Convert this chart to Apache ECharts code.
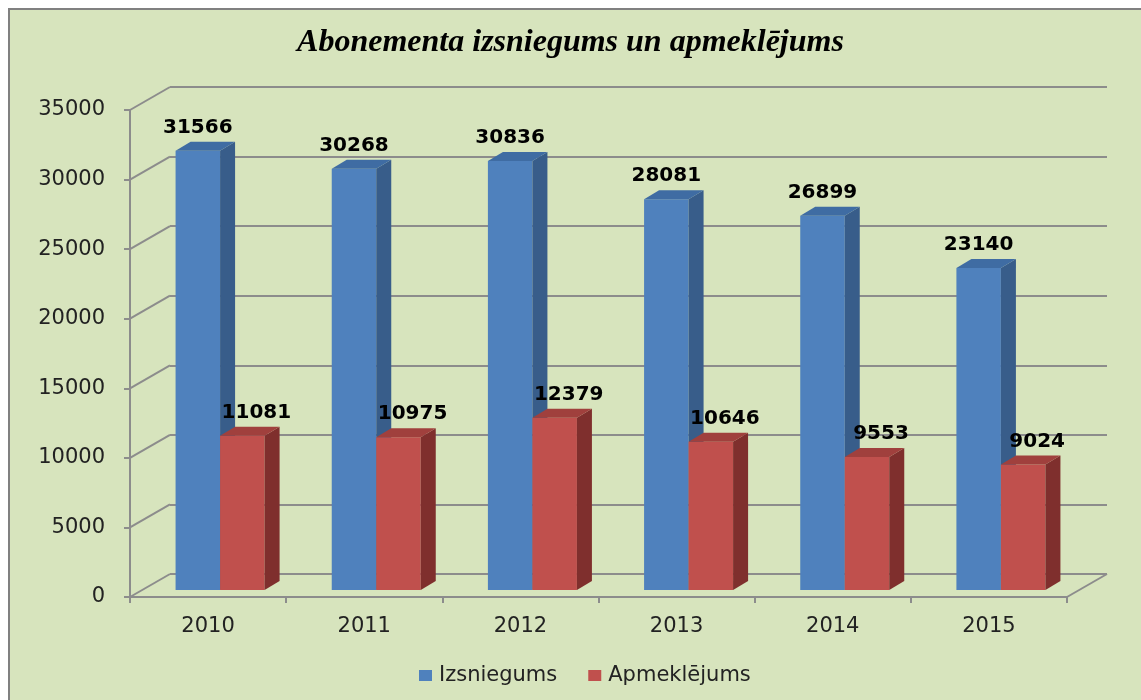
<!DOCTYPE html>
<html>
<head>
<meta charset="utf-8">
<script src="https://cdn.jsdelivr.net/npm/echarts@6/dist/echarts.min.js"></script>
<style>
html, body { margin: 0; padding: 0; background: #fff; }
#main { width: 1141px; height: 700px; }
</style>
</head>
<body>
<div id="main"></div>
<script>
// data
var years = ['2010', '2011', '2012', '2013', '2014', '2015'];
var izsniegums = [31566, 30268, 30836, 28081, 26899, 23140];
var apmeklejums = [11081, 10975, 12379, 10646, 9553, 9024];
var yTicks = [0, 5000, 10000, 15000, 20000, 25000, 30000, 35000];

// fake 3d geometry
var DEPTH_X = 40, DEPTH_Y = -23;   // back wall offset from the front axis
var PLANE_X = 12, PLANE_Y = -7;    // bars stand a bit behind the front
var SIDE_X = 15, SIDE_Y = -9;      // bar depth
var gridColor = '#8C8C8C';
var axisFont = 'DejaVu Sans';

function bar3d(slot, front, side, top, labelShift) {
  return function (params, api) {
    var i = api.value(0), v = api.value(1);
    var w = api.size([1, 0])[0] * 0.285;
    var p0 = api.coord([i, 0]);
    var p1 = api.coord([i, v]);
    var x0 = p0[0] + PLANE_X + slot * w;
    var yb = p0[1] + PLANE_Y, yt = p1[1] + PLANE_Y;
    var x1 = x0 + w;
    return {
      type: 'group',
      children: [
        { type: 'rect', shape: { x: x0, y: yt, width: w, height: yb - yt }, style: { fill: front } },
        { type: 'polygon', shape: { points: [[x1, yb], [x1, yt], [x1 + SIDE_X, yt + SIDE_Y], [x1 + SIDE_X, yb + SIDE_Y]] }, style: { fill: side } },
        { type: 'polygon', shape: { points: [[x0, yt], [x1, yt], [x1 + SIDE_X, yt + SIDE_Y], [x0 + SIDE_X, yt + SIDE_Y]] }, style: { fill: top } },
        { type: 'text', z2: 10, style: {
            text: String(v), x: x0 + w / 2 + labelShift, y: yt - 13,
            align: 'center', verticalAlign: 'bottom',
            font: 'bold 20px "DejaVu Sans"', fill: '#000' } }
      ]
    };
  };
}

function walls(params, api) {
  var cs = params.coordSys;
  var y = api.coord([0, api.value(1)])[1];
  var lines = [
    { type: 'line', shape: { x1: cs.x, y1: y, x2: cs.x + DEPTH_X, y2: y + DEPTH_Y }, style: { stroke: gridColor, lineWidth: 2 } }
  ];
  if (api.value(1) === 0) {
    lines.push({ type: 'line', shape: { x1: cs.x + cs.width, y1: y, x2: cs.x + cs.width + DEPTH_X, y2: y + DEPTH_Y }, style: { stroke: gridColor, lineWidth: 2 } });
  }
  return { type: 'group', children: lines };
}

var chart = echarts.init(document.getElementById('main'));
chart.setOption({
  backgroundColor: '#fff',
  animation: false,
  graphic: {
    elements: [{
      type: 'rect', z: -100, silent: true,
      shape: { x: 9, y: 9, width: 1200, height: 800 },
      style: { fill: '#D7E4BD', stroke: '#808080', lineWidth: 2 }
    }]
  },
  title: {
    text: 'Abonementa izsniegums un apmeklējums',
    left: 'center', top: 22,
    textStyle: { fontFamily: 'Liberation Serif', fontStyle: 'italic', fontWeight: 'bold', fontSize: 32, color: '#000' }
  },
  legend: {
    data: ['Izsniegums', 'Apmeklējums'],
    left: 414, top: 660,
    icon: 'rect', itemWidth: 13, itemHeight: 11, itemGap: 31,
    textStyle: { fontFamily: axisFont, fontSize: 21, color: '#222', padding: [0, 0, 0, 2] }
  },
  grid: [
    { left: 130, top: 110, right: 74, bottom: 103 },
    { left: 170, top: 87, right: 34, bottom: 126 }
  ],
  xAxis: [
    {
      type: 'category', gridIndex: 0, data: years, boundaryGap: true,
      axisLine: { lineStyle: { color: gridColor, width: 2 } },
      axisTick: { show: true, length: 6, lineStyle: { color: gridColor, width: 2 } },
      axisLabel: { margin: 19, fontFamily: axisFont, fontSize: 21, color: '#222' }
    },
    { type: 'category', gridIndex: 1, data: years, show: false }
  ],
  yAxis: [
    {
      type: 'value', gridIndex: 0, min: 0, max: 35000, interval: 5000,
      axisLine: { show: true, lineStyle: { color: gridColor, width: 2 } },
      axisTick: { show: true, length: 6, lineStyle: { color: gridColor, width: 2 } },
      axisLabel: { margin: 25, fontFamily: axisFont, fontSize: 21, color: '#222',
        formatter: function (v) { return String(v); } },
      splitLine: { show: false }
    },
    {
      type: 'value', gridIndex: 1, min: 0, max: 35000, interval: 5000,
      axisLine: { show: false }, axisTick: { show: false }, axisLabel: { show: false },
      splitLine: { show: true, lineStyle: { color: gridColor, width: 2 } }
    }
  ],
  series: [
    {
      name: 'walls', type: 'custom', xAxisIndex: 0, yAxisIndex: 0, silent: true,
      renderItem: walls,
      data: yTicks.map(function (v) { return [0, v]; })
    },
    {
      name: 'Izsniegums', type: 'custom', xAxisIndex: 0, yAxisIndex: 0,
      itemStyle: { color: '#4F81BD' },
      renderItem: bar3d(-1, '#4F81BD', '#385D8A', '#3F6CA3', 0),
      data: izsniegums.map(function (v, i) { return [i, v]; })
    },
    {
      name: 'Apmeklējums', type: 'custom', xAxisIndex: 0, yAxisIndex: 0,
      itemStyle: { color: '#C0504D' },
      renderItem: bar3d(0, '#C0504D', '#7F2F2D', '#A0403D', 14),
      data: apmeklejums.map(function (v, i) { return [i, v]; })
    }
  ]
});
</script>
</body>
</html>
